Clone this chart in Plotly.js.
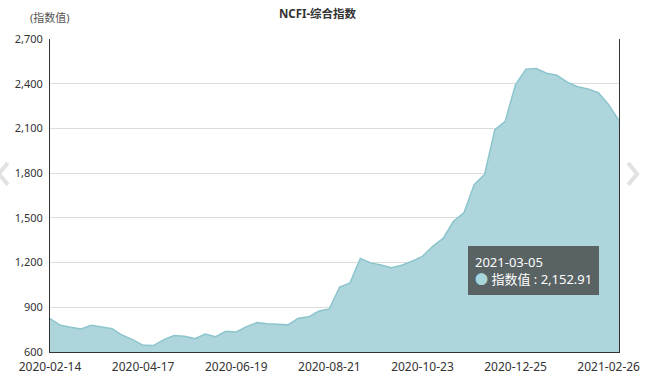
<!DOCTYPE html>
<html>
<head>
<meta charset="utf-8">
<script src="https://cdn.plot.ly/plotly-3.0.1.min.js"></script>
<style>html,body{margin:0;padding:0;background:#fff;}#chart{width:648px;height:378px;}</style>
</head>
<body>
<div id="chart"></div>
<script>
const dates = [
  "2020-02-14","2020-02-21","2020-02-28","2020-03-06","2020-03-13","2020-03-20","2020-03-27",
  "2020-04-03","2020-04-10","2020-04-17","2020-04-24","2020-05-01","2020-05-08","2020-05-15",
  "2020-05-22","2020-05-29","2020-06-05","2020-06-12","2020-06-19","2020-06-26","2020-07-03",
  "2020-07-10","2020-07-17","2020-07-24","2020-07-31","2020-08-07","2020-08-14","2020-08-21",
  "2020-08-28","2020-09-04","2020-09-11","2020-09-18","2020-09-25","2020-10-02","2020-10-09",
  "2020-10-16","2020-10-23","2020-10-30","2020-11-06","2020-11-13","2020-11-20","2020-11-27",
  "2020-12-04","2020-12-11","2020-12-18","2020-12-25","2021-01-01","2021-01-08","2021-01-15",
  "2021-01-22","2021-01-29","2021-02-05","2021-02-12","2021-02-19","2021-02-26","2021-03-05"
];
const indexValues = [
  824, 779, 766, 755, 779, 768, 757,
  712, 683, 645, 643, 683, 710, 706,
  690, 721, 703, 739, 735, 770, 797,
  789, 786, 782, 826, 836, 875, 889,
  1035, 1064, 1227, 1198, 1184, 1166, 1182,
  1209, 1242, 1309, 1362, 1477, 1533, 1723,
  1790, 2092, 2148, 2394, 2498, 2502, 2470,
  2457, 2410, 2380, 2365, 2340, 2260, 2152.91
];
const xTickLabels = ["2020-02-14","2020-04-17","2020-06-19","2020-08-21","2020-10-23","2020-12-25","2021-02-26"];
const yTicks = [600, 900, 1200, 1500, 1800, 2100, 2400, 2700];
const seriesName = "指数值";
const chartTitle = "NCFI-综合指数";
const tipDate = "2021-03-05";
const tipValue = "2,152.91";

const fontFam = "'Noto Sans', 'Noto Sans CJK SC', sans-serif";

const trace = {
  x: dates,
  y: indexValues,
  type: "scatter",
  mode: "lines",
  name: seriesName,
  line: {color: "#8cc5cd", width: 1.5, shape: "linear"},
  fill: "tozeroy",
  fillcolor: "#aed5dc",
  hoverinfo: "skip"
};

const layout = {
  width: 648,
  height: 378,
  margin: {l: 50, r: 29, t: 39, b: 26, pad: 0},
  paper_bgcolor: "#fff",
  plot_bgcolor: "#fff",
  showlegend: false,
  font: {family: fontFam, size: 11, color: "#333"},
  title: {
    text: "<b>" + chartTitle + "</b>",
    x: 0.49, xanchor: "center",
    y: 0.962, yanchor: "middle",
    font: {family: fontFam, size: 11.5, color: "#333"}
  },
  xaxis: {
    type: "category",
    range: [0, dates.length - 1],
    tickmode: "array",
    tickvals: xTickLabels,
    ticktext: xTickLabels,
    showgrid: false,
    zeroline: false,
    showline: true,
    linecolor: "#333",
    linewidth: 1,
    ticks: "",
    tickangle: 0,
    ticklabelstandoff: 4,
    tickfont: {family: fontFam, size: 12, color: "#333"},
    fixedrange: true
  },
  yaxis: {
    range: [600, 2700],
    tickmode: "array",
    tickvals: yTicks,
    tickformat: ",d",
    showgrid: true,
    gridcolor: "#dcdcdc",
    gridwidth: 1,
    zeroline: false,
    showline: true,
    mirror: true,
    linecolor: "#333",
    linewidth: 1,
    ticks: "",
    ticklabelstandoff: 4,
    tickfont: {family: fontFam, size: 11, color: "#333"},
    fixedrange: true
  },
  annotations: [
    {
      xref: "paper", yref: "paper",
      x: 0, y: 1.07, xanchor: "center", yanchor: "middle",
      text: "(" + seriesName + ")",
      showarrow: false,
      font: {family: fontFam, size: 11, color: "#555"}
    },
    {
      xref: "paper", yref: "paper",
      x: 0.735, y: 0.338, xanchor: "left", yanchor: "top",
      text: tipDate + "<br><span style='color:#a7d6dd'>●</span> " + seriesName + " : " + tipValue,
      showarrow: false,
      align: "left",
      bgcolor: "rgba(60,60,60,0.75)",
      borderpad: 7,
      borderwidth: 0,
      font: {family: fontFam, size: 13, color: "#fff"}
    }
  ],
  shapes: [
    {
      type: "path", xref: "paper", yref: "paper",
      path: "M 1.016 0.604 L 1.032 0.569 L 1.016 0.534",
      line: {color: "#e2e2e2", width: 4}
    },
    {
      type: "path", xref: "paper", yref: "paper",
      path: "M -0.074 0.604 L -0.090 0.569 L -0.074 0.534",
      line: {color: "#e2e2e2", width: 4}
    }
  ]
};

Plotly.newPlot("chart", [trace], layout, {displayModeBar: false, staticPlot: true});
</script>
</body>
</html>
